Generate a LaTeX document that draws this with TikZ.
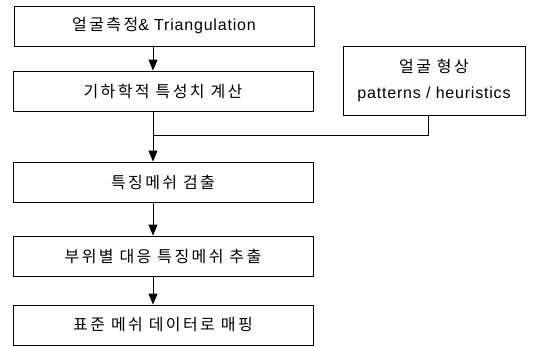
\documentclass[tikz,border=0pt]{standalone}
\usepackage{fontspec}
\setmainfont[LetterSpace=5]{Liberation Sans}
\newfontfamily\kr[LetterSpace=15]{Noto Sans CJK KR}
\usetikzlibrary{arrows.meta}

\begin{document}
\begin{tikzpicture}[x=1pt, y=-1pt]

	\tikzstyle{step_node}=[rectangle, draw=black, line width=0.9pt, minimum width=300pt, minimum height=40pt, font=\fontsize{16}{19}\selectfont]
	\tikzstyle{knowledge_node}=[rectangle, draw=black, line width=0.9pt, minimum width=182pt, minimum height=69pt, align=center, font=\fontsize{16}{19}\selectfont]
	\tikzstyle{flow_arrow}=[-{Triangle[length=11pt, width=9pt]}, line width=0.9pt]

	\useasboundingbox (0, 0) rectangle (538, 346);

	\coordinate (spine) at (153, 0);
	\coordinate (merge_point) at (153, 135);
	\coordinate (heuristics_out) at (428, 0);

	\node[step_node] at (164, 26) (measurement) {{\kr 얼굴측정}\& Triangulation};
	\node[step_node] at (163, 91) (geometry) {\kr 기하학적 특성치 계산};
	\node[knowledge_node] at (434, 80.5) (knowledge) {{\kr 얼굴 형상}\\[7pt] patterns / heuristics};
	\node[step_node] at (163, 182) (mesh_detection) {\kr 특징메쉬 검출};
	\node[step_node] at (163, 256) (mesh_extraction) {\kr 부위별 대응 특징메쉬 추출};
	\node[step_node] at (163, 325) (mapping) {\kr 표준 메쉬 데이터로 매핑};

	\draw[flow_arrow] (measurement.south -| spine) -- (geometry.north -| spine);
	\draw[line width=0.9pt] (geometry.south -| spine) -- (merge_point);
	\draw[line width=0.9pt] (knowledge.south -| heuristics_out) |- (merge_point);
	\draw[flow_arrow] (merge_point) -- (mesh_detection.north -| spine);
	\draw[flow_arrow] (mesh_detection.south -| spine) -- (mesh_extraction.north -| spine);
	\draw[flow_arrow] (mesh_extraction.south -| spine) -- (mapping.north -| spine);
\end{tikzpicture}
\end{document}
